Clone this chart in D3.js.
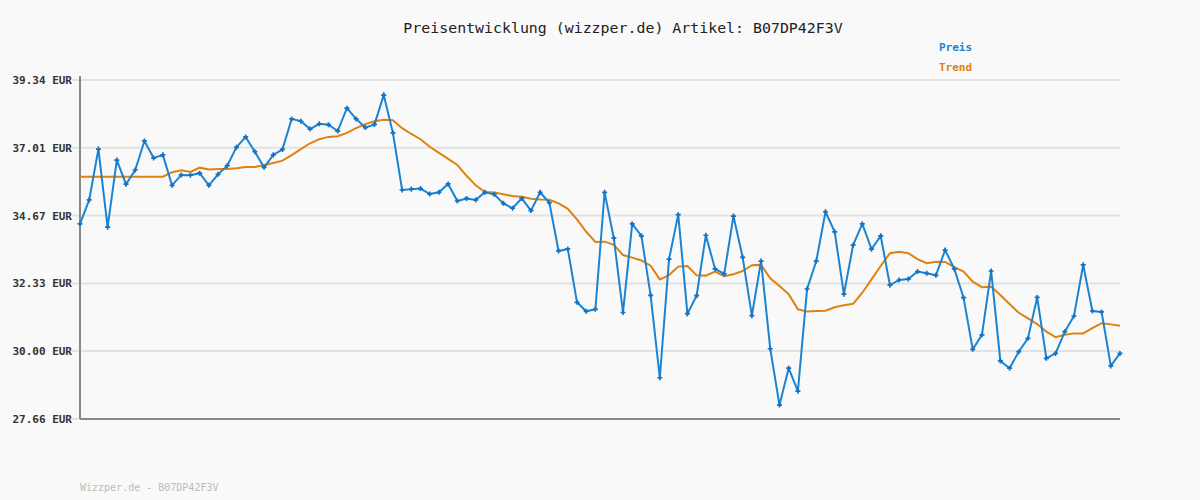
<!DOCTYPE html>
<html>
<head>
<meta charset="utf-8">
<script src="https://cdn.jsdelivr.net/npm/d3@7"></script>
<style>
  body { margin: 0; background: #f9f9f9; }
  text { font-family: "DejaVu Sans Mono", monospace; }
</style>
</head>
<body>
<svg id="chart" width="1200" height="500"></svg>
<script>
'use strict';

const yTicks = [27.66, 30.00, 32.33, 34.67, 37.01, 39.34];

const preis = [
    34.38, 35.21, 36.96, 34.27, 36.58, 35.75, 36.24, 37.24, 36.65, 36.76,
    35.71, 36.07, 36.06, 36.13, 35.71, 36.09, 36.39, 37.02, 37.38, 36.87,
    36.33, 36.76, 36.95, 38.00, 37.92, 37.65, 37.83, 37.80, 37.58, 38.37,
    38.00, 37.70, 37.81, 38.82, 37.52, 35.55, 35.58, 35.60, 35.41, 35.47,
    35.76, 35.17, 35.26, 35.21, 35.47, 35.40, 35.09, 34.92, 35.26, 34.84,
    35.47, 35.11, 33.45, 33.52, 31.68, 31.37, 31.44, 35.47, 33.89, 31.33,
    34.38, 33.97, 31.92, 29.08, 33.17, 34.70, 31.29, 31.91, 33.99, 32.83,
    32.66, 34.65, 33.23, 31.22, 33.10, 30.08, 28.14, 29.41, 28.62, 32.14,
    33.10, 34.80, 34.11, 31.96, 33.65, 34.38, 33.51, 33.97, 32.27, 32.45,
    32.48, 32.74, 32.68, 32.61, 33.48, 32.83, 31.84, 30.06, 30.56, 32.76,
    29.66, 29.41, 29.98, 30.44, 31.85, 29.75, 29.92, 30.67, 31.21, 32.97,
    31.38, 31.35, 29.49, 29.92
];

const trend = [
    36.01, 36.01, 36.01, 36.01, 36.01, 36.01, 36.01, 36.01, 36.01, 36.01,
    36.16, 36.23, 36.17, 36.32, 36.26, 36.27, 36.27, 36.30, 36.34, 36.34,
    36.40, 36.48, 36.56, 36.75, 36.96, 37.16, 37.30, 37.38, 37.40, 37.52,
    37.68, 37.82, 37.92, 37.97, 37.95, 37.68, 37.48, 37.30, 37.04, 36.83,
    36.62, 36.41, 36.04, 35.71, 35.48, 35.46, 35.40, 35.34, 35.32, 35.25,
    35.22, 35.21, 35.09, 34.90, 34.54, 34.11, 33.76, 33.77, 33.66, 33.31,
    33.22, 33.12, 32.94, 32.47, 32.62, 32.91, 32.93, 32.61, 32.60, 32.74,
    32.58, 32.65, 32.76, 32.96, 32.97, 32.51, 32.24, 31.96, 31.44, 31.36,
    31.38, 31.39, 31.51, 31.58, 31.63, 32.01, 32.47, 32.93, 33.37, 33.42,
    33.37, 33.17, 33.03, 33.08, 33.07, 32.89, 32.74, 32.39, 32.20, 32.22,
    31.93, 31.62, 31.32, 31.13, 30.93, 30.67, 30.48, 30.56, 30.61, 30.61,
    30.79, 30.96, 30.92, 30.87
];

const svg = d3.select('#chart');
const plotLeft = 80, plotRight = 1120, plotTop = 80, plotBottom = 419;

const x = d3.scaleLinear().domain([0, preis.length - 1]).range([plotLeft, plotRight]);
const y = d3.scaleLinear().domain([27.66, 39.34]).range([plotBottom, plotTop]);

svg.append('rect').attr('width', 1200).attr('height', 500).attr('fill', '#f9f9f9');

// grid
svg.append('g').selectAll('line').data(yTicks).enter().append('line')
    .attr('x1', plotLeft - 8).attr('x2', plotRight)
    .attr('y1', (d) => y(d)).attr('y2', (d) => y(d))
    .attr('stroke', '#e2e2e2').attr('stroke-width', 2);

const yAxis = d3.axisLeft(y).tickValues(yTicks)
    .tickFormat((d) => d.toFixed(2) + ' EUR').tickSize(0).tickPadding(8);
const ga = svg.append('g').attr('transform', `translate(${plotLeft},0)`).call(yAxis);
ga.select('.domain').remove();
ga.selectAll('text').attr('font-size', 11).attr('font-weight', 'bold')
    .attr('fill', '#333').style('font-family', '"DejaVu Sans Mono", monospace');

svg.append('line').attr('x1', plotLeft).attr('x2', plotLeft).attr('y1', plotTop - 4).attr('y2', plotBottom)
    .attr('stroke', '#888').attr('stroke-width', 2);
svg.append('line').attr('x1', plotLeft).attr('x2', plotRight).attr('y1', plotBottom).attr('y2', plotBottom)
    .attr('stroke', '#888').attr('stroke-width', 2);

const line = d3.line().x((d, i) => x(i)).y((d) => y(d));

svg.append('path').datum(trend).attr('d', line)
    .attr('fill', 'none').attr('stroke', '#e0820f').attr('stroke-width', 2);
svg.append('path').datum(preis).attr('d', line)
    .attr('fill', 'none').attr('stroke', '#1b84d2').attr('stroke-width', 2);

svg.append('g').selectAll('path').data(preis).enter().append('path')
    .attr('d', d3.symbol().type(d3.symbolCross).size(14))
    .attr('transform', (d, i) => `translate(${x(i)},${y(d)})`)
    .attr('fill', '#1470c0');

svg.append('text').attr('x', 623).attr('y', 33).attr('text-anchor', 'middle')
    .attr('font-size', 14.9).attr('fill', '#222')
    .text('Preisentwicklung (wizzper.de) Artikel: B07DP42F3V');

svg.append('text').attr('x', 939).attr('y', 51).attr('font-size', 11)
    .attr('font-weight', 'bold').attr('fill', '#1b84d2').text('Preis');
svg.append('text').attr('x', 939).attr('y', 71).attr('font-size', 11)
    .attr('font-weight', 'bold').attr('fill', '#e0820f').text('Trend');

svg.append('text').attr('x', 80).attr('y', 491).attr('font-size', 10)
    .attr('fill', '#bbb').text('Wizzper.de - B07DP42F3V');
</script>
</body>
</html>
